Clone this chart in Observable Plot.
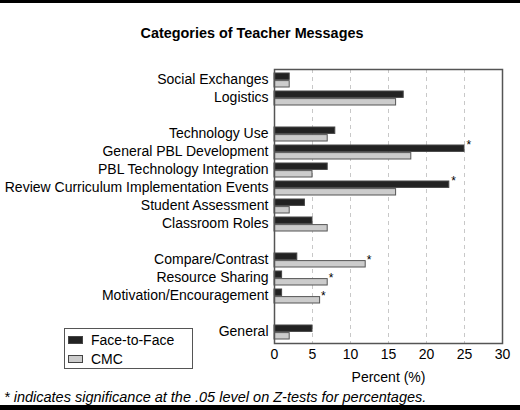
<!DOCTYPE html>
<html>
<head>
<meta charset="utf-8">
<script src="https://cdn.jsdelivr.net/npm/d3@7"></script>
<script src="https://cdn.jsdelivr.net/npm/@observablehq/plot@0.6"></script>
<style>
  html, body { margin: 0; padding: 0; background: #fff; }
  body { position: relative; width: 520px; height: 410px; overflow: hidden; font-family: "Liberation Sans", Arial, sans-serif; color: #000; }
  .rule { position: absolute; left: 0; width: 520px; background: #000; }
  #title { position: absolute; left: 0; width: 504px; top: 25px; text-align: center; font-weight: bold; font-size: 14.4px; }
  #chart { position: absolute; left: 0; top: 50px; line-height: 0; }
  #legend { position: absolute; left: 64px; top: 328px; width: 127px; height: 39px; border: 1px solid #555; background: #fff; font-size: 14px; }
  .item { position: absolute; left: 3px; height: 16px; line-height: 16px; white-space: nowrap; }
  .sw { display: inline-block; width: 13px; height: 6px; border: 1px solid #444; vertical-align: middle; margin-right: 8px; position: relative; top: -1px; }
  #note { position: absolute; left: 4px; top: 389px; font-size: 14.5px; font-style: italic; white-space: nowrap; }
</style>
</head>
<body>
<div class="rule" style="top:0;height:3px"></div>
<div id="title">Categories of Teacher Messages</div>
<div id="chart"></div>
<div id="legend">
  <div class="item" style="top:3px"><span class="sw" style="background:#222"></span>Face-to-Face</div>
  <div class="item" style="top:22px"><span class="sw" style="background:#ccc"></span>CMC</div>
</div>
<div id="note">* indicates significance at the .05 level on Z-tests for percentages.</div>
<div class="rule" style="top:405px;height:5px"></div>
<script>
// Category order (gap entries separate the groups)
const slots = ["Social Exchanges", "Logistics", "gap1",
  "Technology Use", "General PBL Development", "PBL Technology Integration",
  "Review Curriculum Implementation Events", "Student Assessment", "Classroom Roles", "gap2",
  "Compare/Contrast", "Resource Sharing", "Motivation/Encouragement", "gap3",
  "General"];
const categories = ["Social Exchanges", "Logistics",
  "Technology Use", "General PBL Development", "PBL Technology Integration",
  "Review Curriculum Implementation Events", "Student Assessment", "Classroom Roles",
  "Compare/Contrast", "Resource Sharing", "Motivation/Encouragement",
  "General"];
const faceToFace = [2, 17, 8, 25, 7, 23, 4, 5, 3, 1, 1, 5];
const cmc        = [2, 16, 7, 18, 5, 16, 2, 7, 12, 7, 6, 2];
const sigFace = ["General PBL Development", "Review Curriculum Implementation Events"];
const sigCMC  = ["Compare/Contrast", "Resource Sharing", "Motivation/Encouragement"];
const xTicks = [0, 5, 10, 15, 20, 25, 30];
const gridTicks = [5, 10, 15, 20, 25];

const f2f = categories.map((c, i) => ({cat: c, v: faceToFace[i]}));
const cm  = categories.map((c, i) => ({cat: c, v: cmc[i]}));

const plot = Plot.plot({
  width: 520,
  height: 340,
  marginLeft: 274,
  marginRight: 18,
  marginTop: 19,
  marginBottom: 47,
  style: {fontFamily: "Liberation Sans, Arial, sans-serif", fontSize: "14px", color: "#000", background: "transparent"},
  x: {domain: [0, 30]},
  y: {domain: slots, paddingInner: 0.2, paddingOuter: 0.1},
  marks: [
    Plot.gridX(gridTicks, {stroke: "#c8c8c8", strokeOpacity: 1, strokeDasharray: "4,4"}),
    Plot.barX(f2f, {x: "v", y: "cat", fill: "#222", stroke: "#444", strokeWidth: 1, insetBottom: 7.6}),
    Plot.barX(cm, {x: "v", y: "cat", fill: "#ccc", stroke: "#555", strokeWidth: 1, insetTop: 7.6}),
    Plot.text(f2f.filter(d => sigFace.includes(d.cat)), {x: "v", y: "cat", text: () => "*", textAnchor: "start", dx: 2, dy: -7.7, fontSize: 12}),
    Plot.text(cm.filter(d => sigCMC.includes(d.cat)), {x: "v", y: "cat", text: () => "*", textAnchor: "start", dx: 1, dy: 0, fontSize: 12}),
    Plot.frame({stroke: "#555", strokeWidth: 1.5}),
    Plot.axisY({ticks: categories, tickSize: 0, tickPadding: 6, dy: -1, label: null, fontSize: 14}),
    Plot.axisX({ticks: xTicks, tickSize: 0, tickPadding: 6, label: "Percent (%)", labelAnchor: "center", labelArrow: "none", labelOffset: 38, fontSize: 14})
  ]
});
document.getElementById("chart").appendChild(plot);
</script>
</body>
</html>
